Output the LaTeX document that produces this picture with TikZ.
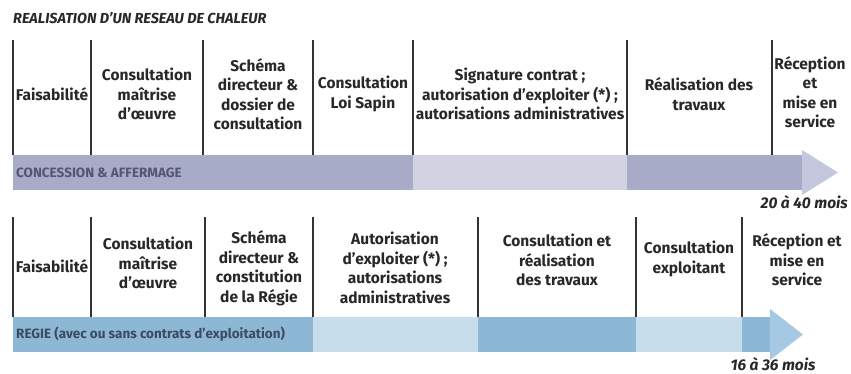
\documentclass[tikz,border=0pt]{standalone}
\usepackage{fontspec}
\setmainfont{Fira Sans}
\usetikzlibrary{calc}
\definecolor{txt}{RGB}{40,40,40}
\definecolor{cmed}{RGB}{168,171,200}
\definecolor{clight}{RGB}{210,211,226}
\definecolor{ctip}{RGB}{196,199,221}
\definecolor{ctxt}{RGB}{85,85,115}
\definecolor{rmed}{RGB}{140,184,213}
\definecolor{rlight}{RGB}{200,221,236}
\definecolor{rtip}{RGB}{165,201,226}
\definecolor{rtxt}{RGB}{60,75,95}
\tikzset{
  x=1pt,y=-1pt,
  lbl/.style={font=\fontsize{15.5}{19.5}\selectfont\bfseries, text=txt, align=center, inner sep=0pt},
  divider/.style={draw=black!80, line width=1.3pt},
  barlbl/.style={font=\fontsize{13.5}{14}\selectfont\bfseries, anchor=west, inner sep=0pt},
  dur/.style={font=\fontsize{15.5}{16}\selectfont\bfseries\itshape, text=txt, inner sep=0pt},
}
\begin{document}
\begin{tikzpicture}
\useasboundingbox (0,0) rectangle (851,374);
\fill[white] (0,0) rectangle (851,374);
% title
\node[anchor=west, font=\fontsize{14.5}{15}\selectfont\bfseries\itshape, text=txt, inner sep=0pt] (title) at (13,18) {REALISATION D'UN RESEAU DE CHALEUR};

% ---------- top bar ----------
\fill[cmed] (13,155) rectangle (413,190);
\fill[clight] (413,155) rectangle (627,190);
\fill[cmed] (627,155) rectangle (802,190);
\fill[ctip] (802,150) -- (838,172.5) -- (802,195) -- cycle;
\node[barlbl, text=ctxt] (conc) at (16,172.5) {CONCESSION \& AFFERMAGE};
\node[dur, anchor=east] (d1) at (848,202) {20 à 40 mois};

\foreach \x in {13,91,203,313,413,627,772}
  \draw[divider] (\x,40) -- (\x,155);

\node[lbl] (t1) at (52,94) {Faisabilité};
\node[lbl] (t2) at (147,94) {Consultation\\maîtrise\\d'œuvre};
\node[lbl] (t3) at (258,94) {Schéma\\directeur \&\\dossier de\\consultation};
\node[lbl] (t4) at (363,94) {Consultation\\Loi Sapin};
\node[lbl] (t5) at (520,94) {Signature contrat ;\\autorisation d'exploiter (*) ;\\autorisations administratives};
\node[lbl] (t6) at (699,94) {Réalisation des\\travaux};
\node[lbl] (t7) at (810,92) {Réception\\et\\mise en\\service};

% ---------- bottom bar ----------
\fill[rmed] (13,317) rectangle (313,352);
\fill[rlight] (313,317) rectangle (478,352);
\fill[rmed] (478,317) rectangle (636,352);
\fill[rlight] (636,317) rectangle (742,352);
\fill[rmed] (742,317) rectangle (770,352);
\fill[rtip] (770,309) -- (803,334.5) -- (770,360) -- cycle;
\node[barlbl, text=rtxt] (regie) at (16,334.5) {REGIE (avec ou sans contrats d'exploitation)};
\node[dur, anchor=base] (d2) at (773,370) {16 à 36 mois};

\foreach \x in {13,91,205,313,478,636,742}
  \draw[divider] (\x,217) -- (\x,317);

\node[lbl] (b1) at (52,266) {Faisabilité};
\node[lbl] (b2) at (148,263) {Consultation\\maîtrise\\d'œuvre};
\node[lbl] (b3) at (259,268) {Schéma\\directeur \&\\constitution\\de la Régie};
\node[lbl] (b4) at (395,268) {Autorisation\\d'exploiter (*) ;\\autorisations\\administratives};
\node[lbl] (b5) at (557,260) {Consultation et\\réalisation\\des travaux};
\node[lbl] (b6) at (689,259) {Consultation\\exploitant};
\node[lbl] (b7) at (797,260) {Réception et\\mise en\\service};
\end{tikzpicture}
\end{document}
